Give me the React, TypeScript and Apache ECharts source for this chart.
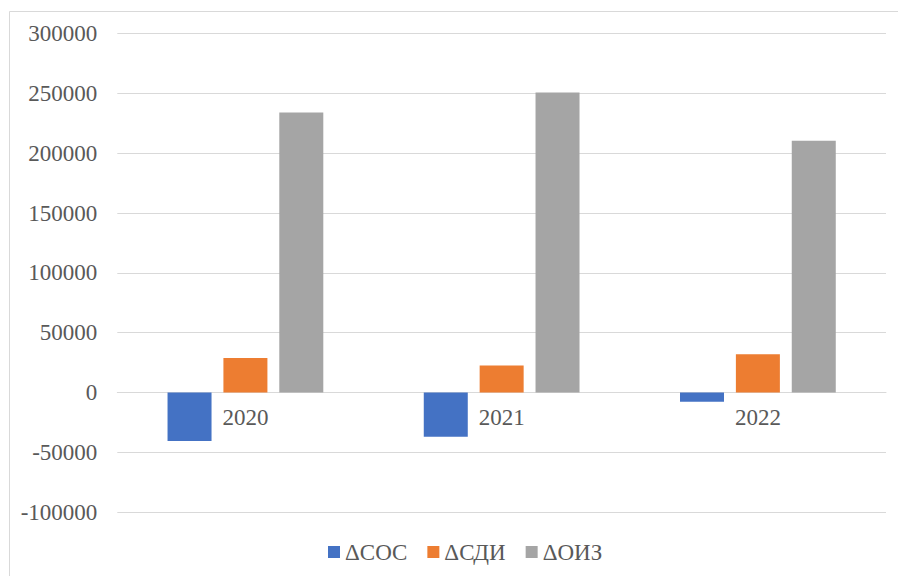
import React, { useEffect, useRef } from "react";
import * as echarts from "echarts";

// Years on the category axis
const years = ["2020", "2021", "2022"];

// Changes in own working capital, long-term sources and total reserves
const seriesNames = ["ΔСОС", "ΔСДИ", "ΔОИЗ"];
const dSOS = [-40700, -37100, -7900];
const dSDI = [28700, 22600, 32000];
const dOIZ = [234100, 250800, 210400];

// Value axis range and step
const yMin = -100000;
const yMax = 300000;
const yStep = 50000;

const colors = ["#4472C4", "#ED7D31", "#A5A5A5"];

const FONT = "'Liberation Serif', 'Times New Roman', serif";
const TEXT = "#595959";
const LINE = "#D9D9D9";

const GRID = { left: 117.3, right: 12, top: 33.7, bottom: 64 };
const HEIGHT = 576;

export default function App() {
  const ref = useRef<HTMLDivElement>(null);

  useEffect(() => {
    if (!ref.current) return;
    const chart = echarts.init(ref.current, undefined, { renderer: "svg" });
    const values = [dSOS, dSDI, dOIZ];
    // Lift the category axis from the bottom of the grid up to the zero line
    const plotH = HEIGHT - GRID.top - GRID.bottom;
    const zeroOffset = -(plotH * (0 - yMin)) / (yMax - yMin);
    chart.setOption({
      animation: false,
      backgroundColor: "#ffffff",
      grid: { ...GRID, containLabel: false },
      graphic: [
        {
          type: "rect",
          shape: { x: 9.5, y: 11.5, width: 1000, height: 1000 },
          style: { fill: "none", stroke: LINE, lineWidth: 1 },
          silent: true,
          z: -1,
        },
      ],
      legend: {
        data: seriesNames,
        left: 328,
        top: 540,
        padding: 0,
        itemWidth: 12,
        itemHeight: 12,
        itemGap: 20,
        icon: "rect",
        textStyle: { fontFamily: FONT, fontSize: 23, color: TEXT, lineHeight: 24 },
      },
      xAxis: {
        type: "category",
        data: years,
        position: "bottom",
        offset: zeroOffset,
        axisLine: { show: true, onZero: false, lineStyle: { color: LINE, width: 1 } },
        axisTick: { show: false },
        axisLabel: { fontFamily: FONT, fontSize: 23, color: TEXT, margin: 14 },
      },
      yAxis: {
        type: "value",
        min: yMin,
        max: yMax,
        interval: yStep,
        axisLine: { show: false },
        axisTick: { show: false },
        splitLine: { lineStyle: { color: LINE, width: 1 } },
        axisLabel: {
          fontFamily: FONT,
          fontSize: 23,
          color: TEXT,
          margin: 20,
          formatter: (v: number) => String(v),
        },
      },
      series: seriesNames.map((name, i) => ({
        name,
        type: "bar",
        data: values[i],
        barWidth: 44,
        barGap: "27%",
        itemStyle: { color: colors[i] },
      })),
    });
    return () => chart.dispose();
  }, []);

  return (
    <div
      ref={ref}
      style={{ position: "fixed", left: 0, top: 0, width: 898, height: HEIGHT }}
    />
  );
}
